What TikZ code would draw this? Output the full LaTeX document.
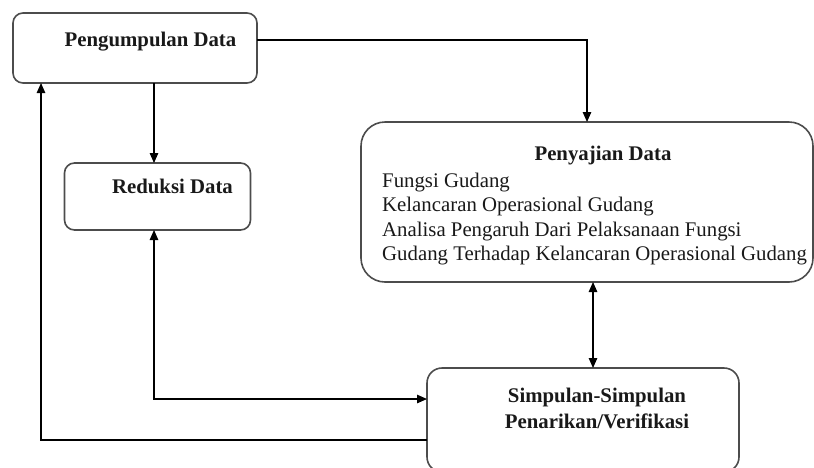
\documentclass[tikz,border=0pt]{standalone}
\usepackage{fontspec}
\setmainfont{Liberation Serif}
\usetikzlibrary{arrows.meta}
\begin{document}
\begin{tikzpicture}[x=1pt,y=-1pt,
  box/.style={draw=black!70,line width=1.6pt,inner sep=0pt,outer sep=0pt},
  ttl/.style={inner sep=0pt,anchor=base,font=\fontsize{20.8}{24}\selectfont\bfseries,text=black!90},
  body/.style={inner sep=0pt,anchor=base west,font=\fontsize{20.8}{24}\selectfont,text=black!90},
  conn/.style={line width=1.2pt,black},
  arr/.style={conn,-{Triangle[length=10pt,width=8.5pt]}},
  arrb/.style={conn,{Triangle[length=10pt,width=8.5pt]}-{Triangle[length=10pt,width=8.5pt]}}]
\useasboundingbox (0,0) rectangle (814,467);
\begin{scope}
\clip (0,0) rectangle (814,467);
% boxes
\node[box,rounded corners=10pt,minimum width=244pt,minimum height=70pt] (pd) at (135,48) {};
\node[box,rounded corners=10pt,minimum width=186pt,minimum height=67pt] (rd) at (157.5,196.5) {};
\node[box,rounded corners=24pt,minimum width=452pt,minimum height=160pt] (ps) at (587,202) {};
\node[box,rounded corners=15pt,minimum width=312pt,minimum height=104pt] (sk) at (583,420) {};
\end{scope}
% texts
\node[ttl] (tpd) at (150.5,46) {Pengumpulan Data};
\node[ttl] (trd) at (172.5,193) {Reduksi Data};
\node[ttl] (tps) at (603,160) {Penyajian Data};
\node[body] (l1) at (382,187) {Fungsi Gudang};
\node[body] (l2) at (382,211.5) {Kelancaran Operasional Gudang};
\node[body] (l3) at (382,236) {Analisa Pengaruh Dari Pelaksanaan Fungsi};
\node[body] (l4) at (382,260.5) {Gudang Terhadap Kelancaran Operasional Gudang};
\node[ttl] (ts1) at (597,402.5) {Simpulan-Simpulan};
\node[ttl] (ts2) at (597,428.5) {Penarikan/Verifikasi};
% coordinates for connector routes
\coordinate (c1) at (587,40);
\coordinate (c2) at (154,0);
\coordinate (c3) at (593,0);
\coordinate (c4) at (0,399);
\coordinate (c5) at (0,440);
\coordinate (c6) at (41,0);
% connectors
\draw[arr] (pd.east |- c1) -| (ps.north -| c1);
\draw[arr] (pd.south -| c2) -- (rd.north -| c2);
\draw[arrb] (ps.south -| c3) -- (sk.north -| c3);
\draw[arrb] (rd.south -| c2) |- (sk.west |- c4);
\draw[arr] (sk.west |- c5) -| (pd.south -| c6);
\end{tikzpicture}
\end{document}
